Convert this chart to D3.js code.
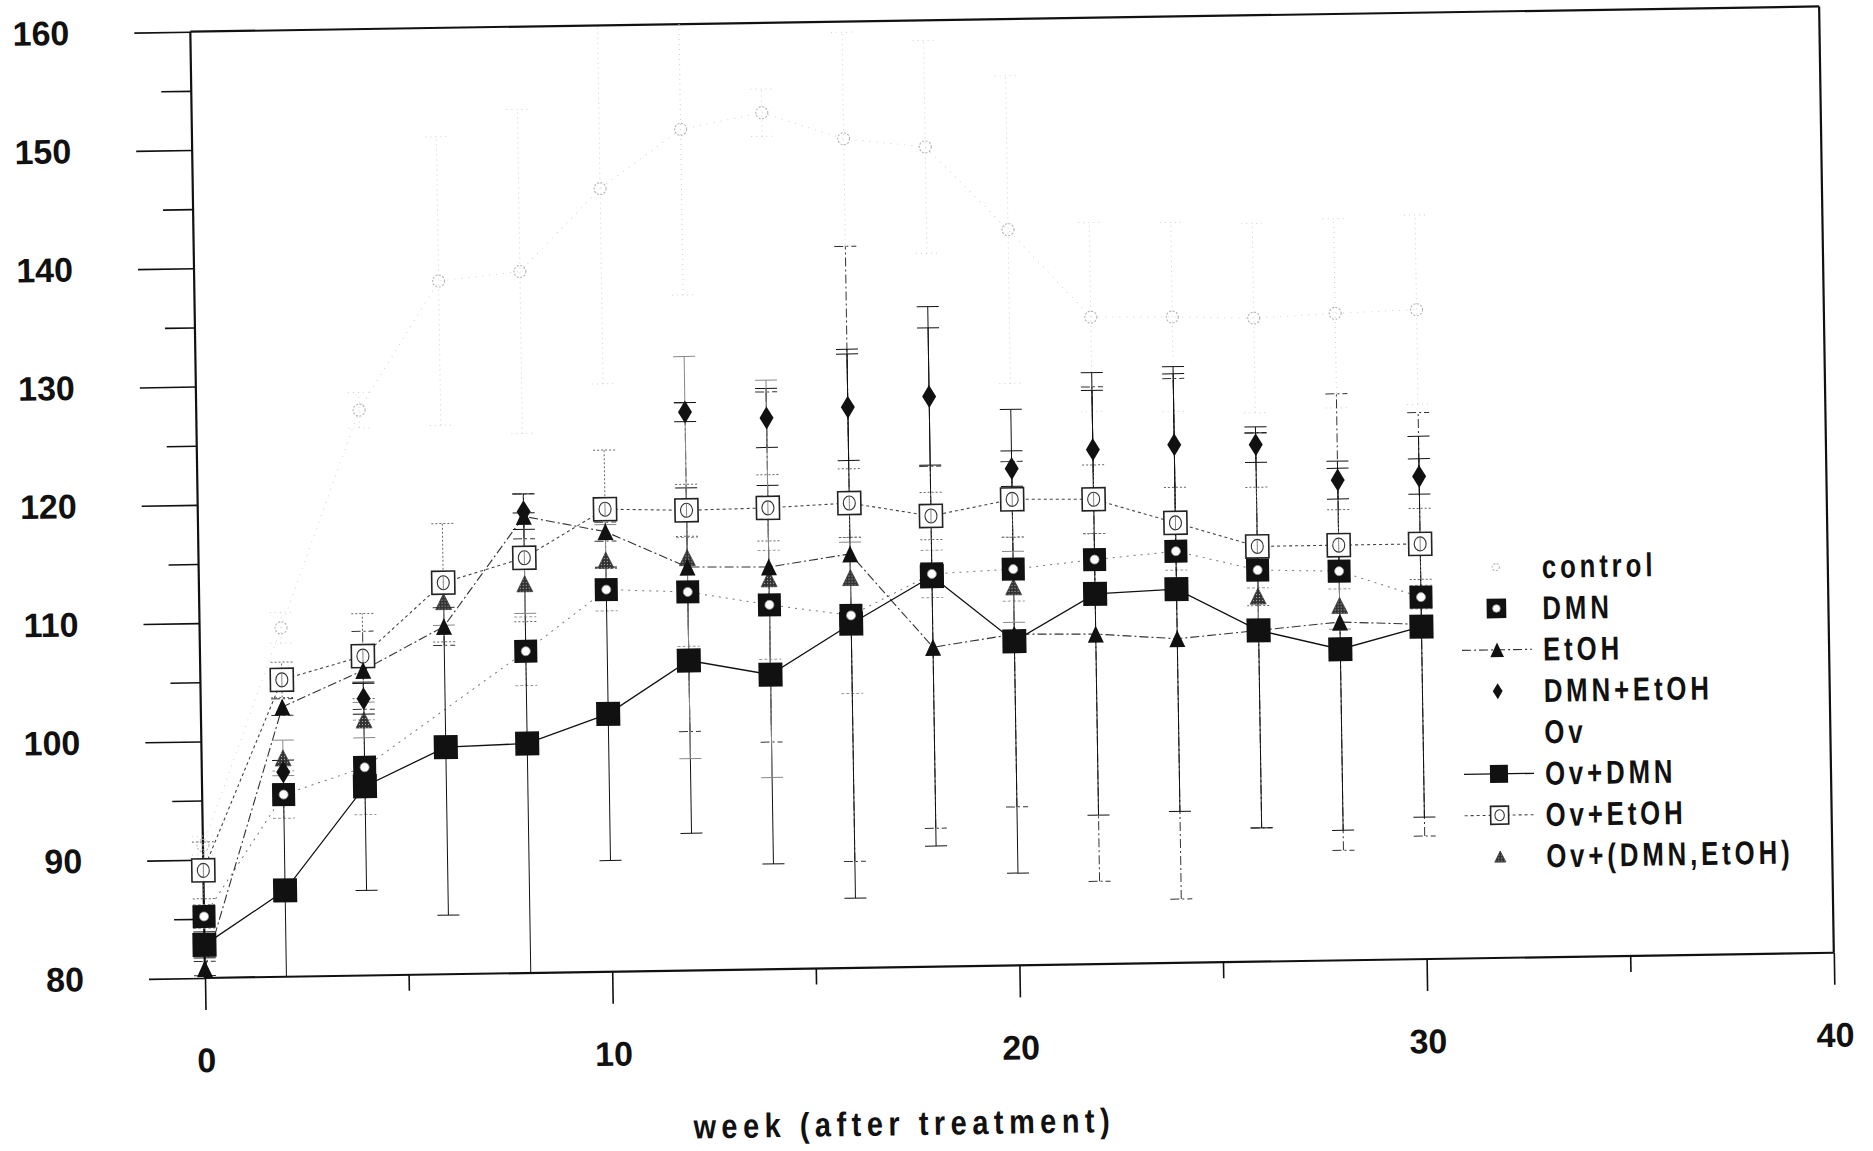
<!DOCTYPE html>
<html>
<head>
<meta charset="utf-8">
<script src="https://cdn.jsdelivr.net/npm/d3@7"></script>
<style>
  body { margin: 0; background: #fff; }
  svg { display: block; }
</style>
</head>
<body>
<div id="chart"></div>
<script>

// weeks after treatment, group means and sd
const weeks = [0, 2, 4, 6, 8, 10, 12, 14, 16, 18, 20, 22, 24, 26, 28, 30];

const control = [91.2, 109.5, 127.8, 138.6, 139.3, 146.2, 151.1, 152.4, 150.1, 149.3, 142.2, 134.7, 134.6, 134.4, 134.7, 134.9];
const controlSd = [0.8, 1.3, 1.5, 12.2, 13.7, 16.5, 14, 2, 9, 9, 13, 8, 8, 8, 8, 8];

const dmn = [85.2, 95.4, 97.6, null, 107.2, 112.3, 112.0, 110.8, 109.8, 113.2, 113.5, 114.2, 114.8, 113.1, 112.9, 110.6];
const dmnSd = [1, 2, 4, null, 2.9, 1.8, 4.6, 4.6, 6.6, 2, 2.7, 2.2, 1.6, 1.5, 1.5, 1];

const etoh = [80.8, 102.8, 105.8, 109.4, 118.6, 117.2, 114.1, 114.0, 115.0, 107.0, 108.0, 107.9, 107.4, 108.0, 108.6, 108.3];
const etohSd = [0.6, 0.7, 3.3, 1.6, 1.9, 0.8, 13.9, 14.8, 26, 15.3, 14.6, 20.9, 22, 16.7, 19.3, 17.9];

const dmnEtoh = [null, 97.3, 103.4, null, 119.0, null, 127.2, 126.6, 127.4, 128.2, 122.0, 123.5, 123.8, 123.7, 120.6, 120.8];
const dmnEtohSd = [null, 1, 1.3, null, 1.5, null, 0.8, 2.5, 4.5, 5.8, 1.5, 5, 6, 1.5, 1.6, 1.5];

const ovDmn = [82.8, 87.3, 96.0, 99.2, 99.4, 101.8, 106.2, 104.9, 109.1, 113.0, 107.4, 111.3, 111.6, 108.0, 106.3, 108.1];
const ovDmnSd = [1.1, 8, 8.8, 14.2, 19.5, 12.4, 14.6, 16, 23.2, 22.8, 19.6, 18.7, 18.8, 16.7, 15.3, 16.1];

const ovEtoh = [89.1, 105.1, 107.0, 113.1, 115.1, 119.1, 118.9, 119.0, 119.3, 118.1, 119.4, 119.3, 117.2, 115.1, 115.1, 115.1];
const ovEtohSd = [2.4, 1.5, 3.6, 5, 5.4, 5, 2.2, 2.8, 2.9, 2, 3.2, 2.9, 3, 5, 3, 3];

const ovDmnEtoh = [null, 98.5, 101.6, 111.5, 112.9, 114.8, 114.9, 113.0, 113.0, null, 112.0, null, null, 110.9, 110.0, null];
const ovDmnEtohSd = [null, 1.5, 1.5, 2, 2.5, 3, 17, 16.8, 3, null, 3, null, null, 2, 2, null];

const legendLabels = ['control', 'DMN', 'EtOH', 'DMN+EtOH', 'Ov', 'Ov+DMN', 'Ov+EtOH', 'Ov+(DMN,EtOH)'];
const xTicks = [0, 10, 20, 30, 40];
const yTicks = [80, 90, 100, 110, 120, 130, 140, 150, 160];
const xTitle = 'week (after treatment)';


let spec = {
  width: 1873,
  height: 1151,
  left: 205,
  right: 1834,
  top: 31.6,
  bottom: 978,
  tilt: -0.888   // the original page was scanned a little crooked
}

const font = 'Liberation Sans, Arial, Helvetica, sans-serif';

let svg = d3.select('#chart')
  .append('svg')
  .attr('width', spec.width)
  .attr('height', spec.height);

svg.append('rect')
  .attr('width', spec.width)
  .attr('height', spec.height)
  .attr('fill', '#fff');

let defs = svg.append('defs');

let speckle = defs.append('pattern')
  .attr('id', 'speckle')
  .attr('width', 3)
  .attr('height', 3)
  .attr('patternUnits', 'userSpaceOnUse');
speckle.append('rect').attr('width', 3).attr('height', 3).attr('fill', '#333');
speckle.append('rect').attr('x', 1).attr('y', 1).attr('width', 1).attr('height', 1).attr('fill', '#bbb');

defs.append('clipPath')
  .attr('id', 'plotClip')
  .append('rect')
  .attr('x', 150)
  .attr('y', spec.top)
  .attr('width', spec.right - 150)
  .attr('height', spec.bottom - spec.top);

let g = svg.append('g')
  .attr('transform', 'rotate(' + spec.tilt + ',' + spec.left + ',' + spec.bottom + ')');

let x = d3.scaleLinear()
  .domain([0, 40])
  .range([spec.left, spec.right]);

let y = d3.scaleLinear()
  .domain([80, 160])
  .range([spec.bottom, spec.top]);


// marker shapes
function tri(w, h) {
  return 'M0,' + (-h / 2) + 'L' + (w / 2) + ',' + (h / 2) + 'L' + (-w / 2) + ',' + (h / 2) + 'Z';
}

function diamond(w, h) {
  return 'M0,' + (-h / 2) + 'L' + (w / 2) + ',0L0,' + (h / 2) + 'L' + (-w / 2) + ',0Z';
}

function drawMarker(m, kind, s) {
  if (kind == 'ring') {
    m.append('circle').attr('r', 6 * s)
      .attr('fill', 'none').attr('stroke', '#b4b4b4')
      .attr('stroke-width', 1.1).attr('stroke-dasharray', '2,1.5');
  } else if (kind == 'dotSquare') {
    m.append('rect').attr('x', -11.5 * s).attr('y', -11.5 * s)
      .attr('width', 23 * s).attr('height', 23 * s).attr('fill', '#111');
    m.append('circle').attr('r', 4.5 * s)
      .attr('fill', '#fff').attr('stroke', '#999').attr('stroke-width', 0.8);
  } else if (kind == 'triangle') {
    m.append('path').attr('d', tri(16 * s, 17 * s)).attr('fill', '#111');
  } else if (kind == 'diamond') {
    m.append('path').attr('d', diamond(14 * s, 23 * s)).attr('fill', '#111');
  } else if (kind == 'square') {
    m.append('rect').attr('x', -12 * s).attr('y', -12 * s)
      .attr('width', 24 * s).attr('height', 24 * s).attr('fill', '#111');
  } else if (kind == 'openSquare') {
    m.append('rect').attr('x', -11.5 * s).attr('y', -11.5 * s)
      .attr('width', 23 * s).attr('height', 23 * s)
      .attr('fill', '#fff').attr('stroke', '#222').attr('stroke-width', 1.6);
    m.append('ellipse').attr('rx', 6 * s).attr('ry', 7 * s)
      .attr('fill', 'none').attr('stroke', '#333').attr('stroke-width', 1.1);
    if (s == 1) {
      m.append('line').attr('y1', -7).attr('y2', 7)
        .attr('stroke', '#666').attr('stroke-width', 0.8);
    }
  } else if (kind == 'greyTriangle') {
    m.append('path').attr('d', tri(16 * s, 16 * s))
      .attr('fill', 'url(#speckle)').attr('stroke', '#333').attr('stroke-width', 0.7);
  }
}

// one entry per legend row; Ov has nothing drawn
let groups = [
  { name: 'control', mean: control, sd: controlSd, marker: 'ring', ls: 0.6,
    line: { stroke: '#d2d2d2', dash: '1,6', width: 1 }, bar: { stroke: '#d0d0d0', dash: '1,4' } },
  { name: 'DMN', mean: dmn, sd: dmnSd, marker: 'dotSquare', ls: 0.85,
    line: { stroke: '#777', dash: '2,5', width: 1 }, bar: { stroke: '#999', dash: '3,2' } },
  { name: 'EtOH', mean: etoh, sd: etohSd, marker: 'triangle', ls: 0.85,
    line: { stroke: '#333', dash: '9,3,2,3', width: 1.1 }, bar: { stroke: '#333', dash: '9,3,2,3' } },
  { name: 'DMN+EtOH', mean: dmnEtoh, sd: dmnEtohSd, marker: 'diamond', ls: 0.7,
    line: null, bar: { stroke: '#111', dash: null } },
  { name: 'Ov', mean: [], sd: [], marker: null, ls: 1, line: null, bar: null },
  { name: 'Ov+DMN', mean: ovDmn, sd: ovDmnSd, marker: 'square', ls: 0.75,
    line: { stroke: '#111', dash: null, width: 1.3 }, bar: { stroke: '#111', dash: null } },
  { name: 'Ov+EtOH', mean: ovEtoh, sd: ovEtohSd, marker: 'openSquare', ls: 0.78,
    line: { stroke: '#444', dash: '3,3', width: 1.1 }, bar: { stroke: '#666', dash: '2,2' } },
  { name: 'Ov+(DMN,EtOH)', mean: ovDmnEtoh, sd: ovDmnEtohSd, marker: 'greyTriangle', ls: 0.7,
    line: null, bar: { stroke: '#888', dash: null } }
];

groups.forEach(function (grp) {
  grp.points = [];
  for (let i = 0; i < grp.mean.length; i++) {
    if (grp.mean[i] != null) {
      grp.points.push({ week: weeks[i], v: grp.mean[i], sd: grp.sd[i] });
    }
  }
});


// axes: long ticks every 10, short ones in between
function styleAxis(a) {
  a.select('.domain').remove();
  a.selectAll('line').attr('stroke', '#111').attr('stroke-width', 1.6);
  a.selectAll('text')
    .attr('fill', '#111')
    .style('font-family', font)
    .style('font-weight', 'bold')
    .style('font-size', '34px');
}

g.append('g')
  .attr('transform', 'translate(' + spec.left + ',0)')
  .call(d3.axisLeft(y).tickValues(yTicks).tickSize(56).tickPadding(65).tickFormat(d3.format('d')))
  .call(styleAxis);

g.append('g')
  .attr('transform', 'translate(' + spec.left + ',0)')
  .call(d3.axisLeft(y).tickValues(d3.range(85, 160, 10)).tickSize(30).tickFormat(''))
  .call(styleAxis);

g.append('g')
  .attr('transform', 'translate(0,' + spec.bottom + ')')
  .call(d3.axisBottom(x).tickValues(xTicks).tickSize(32).tickPadding(38).tickFormat(d3.format('d')))
  .call(styleAxis);

g.append('g')
  .attr('transform', 'translate(0,' + spec.bottom + ')')
  .call(d3.axisBottom(x).tickValues([5, 15, 25, 35]).tickSize(16).tickFormat(''))
  .call(styleAxis);

// frame
let frame = g.append('g')
  .attr('stroke', '#111')
  .attr('stroke-width', 2.2)
  .attr('fill', 'none');
frame.append('line').attr('x1', spec.left).attr('x2', spec.right).attr('y1', spec.top).attr('y2', spec.top);
frame.append('line').attr('x1', spec.left).attr('x2', spec.right).attr('y1', spec.bottom).attr('y2', spec.bottom);
frame.append('line').attr('x1', spec.left).attr('x2', spec.left).attr('y1', spec.top).attr('y2', spec.bottom);
frame.append('line').attr('x1', spec.right).attr('x2', spec.right).attr('y1', spec.top).attr('y2', spec.bottom);


// connecting lines and error bars, clipped to the plot box
let plot = g.append('g').attr('clip-path', 'url(#plotClip)');

let lineGen = d3.line()
  .x(function (d) { return x(d.week); })
  .y(function (d) { return y(d.v); });

groups.forEach(function (grp) {
  if (!grp.line) return;
  plot.append('path')
    .datum(grp.points)
    .attr('fill', 'none')
    .attr('stroke', grp.line.stroke)
    .attr('stroke-width', grp.line.width)
    .attr('stroke-dasharray', grp.line.dash)
    .attr('d', lineGen);
});

let capW = 11;
groups.forEach(function (grp) {
  if (!grp.bar) return;
  let bars = plot.append('g')
    .attr('stroke', grp.bar.stroke)
    .attr('stroke-width', 1)
    .attr('stroke-dasharray', grp.bar.dash)
    .selectAll('g')
    .data(grp.points.filter(function (d) { return d.sd; }))
    .enter()
    .append('g');

  bars.append('line')
    .attr('x1', function (d) { return x(d.week); })
    .attr('x2', function (d) { return x(d.week); })
    .attr('y1', function (d) { return y(d.v - d.sd); })
    .attr('y2', function (d) { return y(d.v + d.sd); });

  bars.append('line')
    .attr('x1', function (d) { return x(d.week) - capW; })
    .attr('x2', function (d) { return x(d.week) + capW; })
    .attr('y1', function (d) { return y(d.v - d.sd); })
    .attr('y2', function (d) { return y(d.v - d.sd); });

  bars.append('line')
    .attr('x1', function (d) { return x(d.week) - capW; })
    .attr('x2', function (d) { return x(d.week) + capW; })
    .attr('y1', function (d) { return y(d.v + d.sd); })
    .attr('y2', function (d) { return y(d.v + d.sd); });
});


// markers, drawn in the stacking order of the original
let drawOrder = ['control', 'Ov+DMN', 'Ov+EtOH', 'Ov+(DMN,EtOH)', 'EtOH', 'DMN', 'DMN+EtOH'];
drawOrder.forEach(function (name) {
  let grp = groups.find(function (d) { return d.name == name; });
  g.append('g')
    .selectAll('g')
    .data(grp.points)
    .enter()
    .append('g')
    .attr('transform', function (d) { return 'translate(' + x(d.week) + ',' + y(d.v) + ')'; })
    .each(function () { drawMarker(d3.select(this), grp.marker, 1); });
});


// narrow bold lettering like the original typeset labels
function label(parent, px, py, str, size, spacing, anchor, sx) {
  parent.append('g')
    .attr('transform', 'translate(' + px + ',' + py + ') scale(' + (sx || 0.85) + ',1)')
    .append('text')
    .attr('text-anchor', anchor || 'start')
    .attr('fill', '#111')
    .style('font-family', font)
    .style('font-weight', 'bold')
    .style('font-size', size + 'px')
    .style('letter-spacing', spacing + 'px')
    .text(str);
}

label(g, 902, 1146, xTitle, 34, 6.5, 'middle', 0.85);


// legend
let legend = g.append('g');
let legX = 1548, legSym = 1502, legTop = 598.7, legStep = 41.35;

groups.forEach(function (grp, i) {
  let base = legTop + i * legStep;
  let cy = base - 11.5;
  if (grp.name == 'EtOH' || grp.name == 'Ov+DMN' || grp.name == 'Ov+EtOH') {
    legend.append('line')
      .attr('x1', 1467).attr('x2', 1537)
      .attr('y1', cy).attr('y2', cy)
      .attr('stroke', grp.line.stroke)
      .attr('stroke-width', grp.line.width)
      .attr('stroke-dasharray', grp.line.dash);
  }
  if (grp.marker) {
    let m = legend.append('g').attr('transform', 'translate(' + legSym + ',' + cy + ')');
    drawMarker(m, grp.marker, grp.ls);
  }
  label(legend, legX, base, legendLabels[i], 33, 5, 'start', 0.78);
});

</script>
</body>
</html>
